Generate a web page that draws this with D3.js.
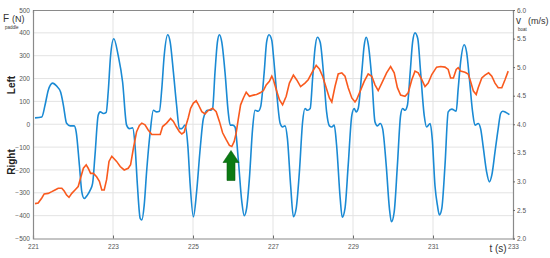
<!DOCTYPE html>
<html>
<head>
<meta charset="utf-8">
<script src="https://cdn.jsdelivr.net/npm/d3@7"></script>
<style>
  body { margin: 0; background: #fff; }
  svg text { font-family: "Liberation Sans", Arial, sans-serif; }
</style>
</head>
<body>
<div id="chart"></div>
<script>
// Chart size
let svgWidth = 550;
let svgHeight = 258;
let margin = { top: 10, right: 37, bottom: 19.5, left: 33 };
let width = svgWidth - margin.left - margin.right;
let height = svgHeight - margin.top - margin.bottom;

// Paddle force (blue, left axis) - time (s) and force (N)
let forceTime = [221.05, 221.22, 221.30, 221.38, 221.49, 221.59, 221.69, 221.76, 221.84, 221.93,
  222.03, 222.08, 222.16, 222.22, 222.28, 222.36, 222.43, 222.49, 222.55, 222.63,
  222.68, 222.76, 222.83, 222.88, 222.94, 223.02, 223.13, 223.24, 223.34, 223.41,
  223.49, 223.55, 223.61, 223.68, 223.72, 223.78, 223.84, 223.93, 224.01, 224.09,
  224.16, 224.22, 224.28, 224.37, 224.43, 224.51, 224.59, 224.66, 224.72, 224.80,
  224.87, 224.93, 225.01, 225.09, 225.18, 225.26, 225.36, 225.44, 225.49, 225.55,
  225.61, 225.66, 225.72, 225.80, 225.88, 225.93, 225.99, 226.05, 226.13, 226.22,
  226.28, 226.34, 226.41, 226.49, 226.55, 226.63, 226.69, 226.78, 226.84, 226.90,
  226.97, 227.01, 227.09, 227.18, 227.24, 227.30, 227.36, 227.44, 227.51, 227.58,
  227.66, 227.74, 227.80, 227.86, 227.93, 227.99, 228.05, 228.11, 228.18, 228.26,
  228.34, 228.41, 228.47, 228.53, 228.59, 228.68, 228.73, 228.80, 228.88, 228.97,
  229.03, 229.08, 229.13, 229.22, 229.28, 229.33, 229.38, 229.47, 229.55, 229.61,
  229.68, 229.74, 229.83, 229.91, 229.96, 230.03, 230.11, 230.19, 230.24, 230.30,
  230.36, 230.43, 230.49, 230.55, 230.62, 230.69, 230.78, 230.84, 230.93, 230.98,
  231.05, 231.11, 231.16, 231.22, 231.30, 231.38, 231.47, 231.58, 231.63, 231.69,
  231.78, 231.84, 231.91, 231.99, 232.05, 232.13, 232.19, 232.26, 232.34, 232.41,
  232.47, 232.55, 232.63, 232.69, 232.74, 232.83, 232.91];
let forceValues = [28, 32, 83, 148, 180, 167, 141, 83, 4, -7,
  -7, -34, -179, -296, -325, -310, -288, -259, -135, 39,
  54, 47, 52, 141, 301, 374, 301, 185, -4, -19,
  -16, -92, -266, -412, -419, -354, -208, -34, 61, 54,
  57, 156, 301, 392, 359, 228, 83, -19, -19, -4,
  -92, -266, -405, -296, -106, 25, 61, 61, 69, 228,
  359, 392, 359, 228, 54, -4, -4, -12, -150, -339,
  -400, -368, -237, -19, 61, 57, 76, 228, 359, 392,
  367, 301, 141, 3, -12, -7, -62, -266, -405, -368,
  -208, 10, 69, 61, 69, 200, 331, 381, 359, 228,
  54, -7, -12, -4, -92, -325, -407, -368, -179, 39,
  69, 54, 69, 228, 345, 381, 352, 200, 10, -7,
  3, -19, -179, -368, -427, -383, -179, 39, 69, 61,
  83, 228, 359, 400, 374, 228, 39, -12, 3, -62,
  -270, -354, -397, -368, -179, 54, 66, 57, 156, 272,
  348, 316, 200, 54, -4, 3, -19, -106, -208, -252,
  -223, -121, -19, 47, 57, 51, 42];

// Boat speed (orange, right axis) - time (s) and speed (m/s)
let speedTime = [221.05, 221.13, 221.22, 221.28, 221.38, 221.47, 221.55, 221.63, 221.72, 221.78,
  221.84, 221.90, 221.97, 222.05, 222.13, 222.19, 222.26, 222.33, 222.38, 222.44,
  222.51, 222.59, 222.66, 222.72, 222.78, 222.84, 222.90, 222.97, 223.01, 223.09,
  223.18, 223.28, 223.38, 223.44, 223.51, 223.59, 223.66, 223.72, 223.80, 223.88,
  223.97, 224.09, 224.18, 224.24, 224.34, 224.44, 224.51, 224.58, 224.66, 224.72,
  224.78, 224.83, 224.88, 224.94, 225.01, 225.08, 225.13, 225.22, 225.30, 225.38,
  225.49, 225.58, 225.66, 225.74, 225.83, 225.91, 225.97, 226.03, 226.08, 226.13,
  226.19, 226.26, 226.33, 226.41, 226.51, 226.59, 226.68, 226.76, 226.83, 226.91,
  226.97, 227.01, 227.08, 227.16, 227.24, 227.33, 227.41, 227.51, 227.59, 227.69,
  227.80, 227.88, 227.97, 228.08, 228.16, 228.24, 228.33, 228.41, 228.47, 228.55,
  228.63, 228.72, 228.80, 228.88, 228.97, 229.05, 229.09, 229.18, 229.28, 229.38,
  229.47, 229.55, 229.63, 229.72, 229.84, 229.94, 230.03, 230.11, 230.19, 230.30,
  230.38, 230.47, 230.55, 230.63, 230.72, 230.80, 230.88, 230.97, 231.09, 231.19,
  231.30, 231.38, 231.44, 231.51, 231.58, 231.63, 231.69, 231.80, 231.88, 231.94,
  232.01, 232.08, 232.13, 232.22, 232.30, 232.39, 232.47, 232.55, 232.63, 232.72,
  232.80, 232.88];
let speedValues = [2.61, 2.62, 2.71, 2.78, 2.79, 2.82, 2.85, 2.88, 2.88, 2.83,
  2.76, 2.72, 2.79, 2.85, 2.91, 3.06, 3.23, 3.29, 3.23, 3.14,
  3.14, 3.08, 3.00, 2.85, 2.85, 3.03, 3.35, 3.44, 3.41, 3.35,
  3.26, 3.20, 3.23, 3.29, 3.58, 3.87, 3.98, 4.02, 3.99, 3.90,
  3.82, 3.82, 3.82, 3.96, 4.02, 4.10, 4.05, 3.96, 3.87, 3.83,
  3.86, 3.99, 4.11, 4.28, 4.37, 4.41, 4.35, 4.22, 4.18, 4.24,
  4.28, 4.22, 4.05, 3.85, 3.73, 3.63, 3.61, 3.70, 3.85, 4.08,
  4.34, 4.46, 4.56, 4.49, 4.51, 4.52, 4.55, 4.59, 4.69, 4.75,
  4.84, 4.78, 4.61, 4.43, 4.34, 4.49, 4.72, 4.86, 4.78, 4.66,
  4.72, 4.78, 4.90, 5.03, 4.97, 4.84, 4.64, 4.46, 4.39, 4.66,
  4.88, 4.90, 4.84, 4.64, 4.46, 4.39, 4.43, 4.58, 4.75, 4.88,
  4.84, 4.69, 4.59, 4.72, 4.90, 5.01, 4.90, 4.64, 4.51, 4.49,
  4.55, 4.78, 4.93, 4.90, 4.78, 4.66, 4.72, 4.87, 5.00, 5.01,
  5.00, 4.96, 4.81, 4.81, 4.96, 4.99, 4.93, 4.91, 4.88, 4.75,
  4.58, 4.52, 4.64, 4.81, 4.86, 4.90, 4.84, 4.72, 4.64, 4.64,
  4.78, 4.93];

// Tick labels
let xTicks = [221, 223, 225, 227, 229, 231, 233];
let forceTicks = [-500, -400, -300, -200, -100, 0, 100, 200, 300, 400, 500];
let speedTicks = [2, 2.5, 3, 3.5, 4, 4.5, 5, 5.5, 6];

let forceData = forceTime.map((t, i) => ({ t: t, v: forceValues[i] }));
let speedData = speedTime.map((t, i) => ({ t: t, v: speedValues[i] }));

let svg = d3.select("#chart")
  .append("svg")
  .attr("width", svgWidth)
  .attr("height", svgHeight);

let chartGroup = svg.append("g")
  .attr("transform", `translate(${margin.left}, ${margin.top})`);

// Scales
let xScale = d3.scaleLinear().domain([221, 233]).range([0, width]);
let yLeft = d3.scaleLinear().domain([-500, 500]).range([height, 0]);
let yRight = d3.scaleLinear().domain([2, 6]).range([height, 0]);

// Grid lines
chartGroup.append("g")
  .selectAll("line.hgrid")
  .data(forceTicks.slice(1, -1))
  .enter()
  .append("line")
  .attr("x1", 0).attr("x2", width)
  .attr("y1", d => yLeft(d)).attr("y2", d => yLeft(d))
  .attr("stroke", "#e3e3e3")
  .attr("stroke-width", 1);

chartGroup.append("g")
  .selectAll("line.vgrid")
  .data(xTicks.slice(1, -1))
  .enter()
  .append("line")
  .attr("x1", d => xScale(d)).attr("x2", d => xScale(d))
  .attr("y1", 0).attr("y2", height)
  .attr("stroke", "#e3e3e3")
  .attr("stroke-width", 1);

// Axes
let bottomAxis = d3.axisBottom(xScale).tickValues(xTicks).tickSize(-3).tickPadding(6).tickFormat(d3.format("d"));
let topAxis = d3.axisTop(xScale).tickValues(xTicks).tickSize(-3).tickFormat("");
let leftAxis = d3.axisLeft(yLeft).tickValues(forceTicks).tickSize(0).tickPadding(3);
let rightAxis = d3.axisRight(yRight).tickValues(speedTicks).tickSize(2).tickPadding(2);

function styleAxis(g) {
  g.select(".domain").attr("stroke", "#8a8a8a").attr("stroke-width", 1.2);
  g.selectAll(".tick line").attr("stroke", "#6a6a6a");
  g.selectAll(".tick text").attr("fill", "#555").style("font-size", "6.5px");
}

chartGroup.append("g").attr("transform", `translate(0, ${height})`).call(bottomAxis).call(styleAxis);
chartGroup.append("g").call(topAxis).call(styleAxis);
chartGroup.append("g").call(leftAxis).call(styleAxis);
chartGroup.append("g").attr("transform", `translate(${width}, 0)`).call(rightAxis).call(styleAxis);

// Lines
let forceLine = d3.line()
  .x(d => xScale(d.t))
  .y(d => yLeft(d.v))
  .curve(d3.curveMonotoneX);

let speedLine = d3.line()
  .x(d => xScale(d.t))
  .y(d => yRight(d.v))
  .curve(d3.curveLinear);

chartGroup.append("path")
  .datum(forceData)
  .attr("fill", "none")
  .attr("stroke", "#1a8ad4")
  .attr("stroke-width", 1.6)
  .attr("d", forceLine);

chartGroup.append("path")
  .datum(speedData)
  .attr("fill", "none")
  .attr("stroke", "#f95a1e")
  .attr("stroke-width", 1.6)
  .attr("d", speedLine);

// Green arrow annotation (tip under the speed dip)
let tipX = xScale(225.95);
let tipY = yLeft(-115);
let arrow = [[0, 0], [8, 12], [4, 12], [4, 30], [-4, 30], [-4, 12], [-8, 12]];
chartGroup.append("polygon")
  .attr("points", arrow.map(p => [tipX + p[0], tipY + p[1]].join(",")).join(" "))
  .attr("fill", "#0b7a12")
  .attr("stroke", "#0a5e10")
  .attr("stroke-width", 0.6);

// Axis titles: symbol, subscript tucked under it, unit after the symbol
function symbolTitle(x, y, symbol, sub, unit, unitDx) {
  let g = svg.append("g").attr("fill", "#333");
  g.append("text").attr("x", x).attr("y", y).style("font-size", "10px").text(symbol);
  g.append("text").attr("x", x + 2).attr("y", y + 6.5).style("font-size", "4.5px").text(sub);
  g.append("text").attr("x", x + unitDx).attr("y", y).style("font-size", "9px").text(unit);
}
symbolTitle(3, 22, "F", "paddle", "(N)", 9);
symbolTitle(516, 24, "v", "boat", "(m/s)", 12);

svg.append("text")
  .attr("transform", "translate(15, 85) rotate(-90)")
  .attr("text-anchor", "middle")
  .style("font-size", "10px")
  .style("font-weight", "bold")
  .attr("fill", "#222")
  .text("Left");

svg.append("text")
  .attr("transform", "translate(15, 162) rotate(-90)")
  .attr("text-anchor", "middle")
  .style("font-size", "10px")
  .style("font-weight", "bold")
  .attr("fill", "#222")
  .text("Right");

svg.append("text")
  .attr("x", 498)
  .attr("y", 252)
  .attr("text-anchor", "middle")
  .style("font-size", "10px")
  .attr("fill", "#333")
  .text("t (s)");
</script>
</body>
</html>
